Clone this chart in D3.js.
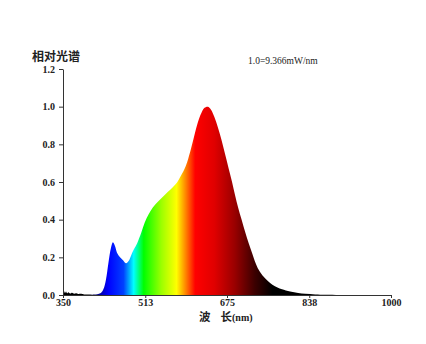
<!DOCTYPE html>
<html>
<head>
<meta charset="utf-8">
<script src="https://cdn.jsdelivr.net/npm/d3@7"></script>
<style>
	body { margin: 0; background: #fff; }
	svg { display: block; }
	.tick text { font-family: 'Liberation Serif', 'DejaVu Serif', serif; font-weight: bold; font-size: 10px; fill: #222; }
</style>
</head>
<body>
<div id="chart"></div>
<script>
// wavelength (nm) and relative intensity
var wavelengths = [350, 352, 354, 356, 358, 361, 364, 368, 372, 376, 380, 386, 392, 400, 410, 420, 425, 430, 435, 440, 445, 449, 453, 457, 463, 469, 475, 480, 485, 490, 497, 505, 512, 520, 528, 538, 548, 558, 568, 576, 582, 590, 596, 604, 611, 617, 624, 630, 637, 643, 650, 657, 664, 671, 678, 685, 691, 697, 704, 711, 718, 725, 730, 736, 745, 756, 765, 775, 784, 800, 816, 830, 850, 870, 900, 1000]
var intensity = [0.012, 0.02, 0.01, 0.018, 0.009, 0.015, 0.008, 0.012, 0.007, 0.009, 0.005, 0.006, 0.003, 0.003, 0.002, 0.005, 0.01, 0.03, 0.08, 0.17, 0.25, 0.28, 0.26, 0.225, 0.2, 0.185, 0.168, 0.18, 0.21, 0.24, 0.275, 0.33, 0.385, 0.43, 0.465, 0.495, 0.522, 0.548, 0.574, 0.598, 0.625, 0.665, 0.705, 0.78, 0.855, 0.915, 0.965, 0.993, 1.0, 0.985, 0.945, 0.89, 0.825, 0.75, 0.675, 0.6, 0.53, 0.465, 0.4, 0.335, 0.275, 0.22, 0.18, 0.142, 0.105, 0.075, 0.055, 0.04, 0.03, 0.018, 0.01, 0.006, 0.003, 0.001, 0, 0]

var xTicks = [350, 513, 675, 838, 1000]
var yTicks = [0, 0.2, 0.4, 0.6, 0.8, 1.0, 1.2]

// spectrum colour stops
var stopNm = [400, 425, 440, 470, 490, 510, 545, 575, 592, 612, 650, 690, 730, 765]
var stopColor = ['#000000', '#0000b0', '#0000ff', '#0040ff', '#00ffff', '#00ff00', '#9cff00', '#ffff00', '#ff8c00', '#ff0000', '#e00000', '#9a0000', '#3c0000', '#000000']

var width = 426
var height = 344
var margin = { top: 69, right: 35, bottom: 49, left: 63 }

var svg = d3.select('#chart').append('svg')
	.attr('width', width)
	.attr('height', height)

var x = d3.scaleLinear()
	.domain([350, 1000])
	.range([margin.left, width - margin.right])

var y = d3.scaleLinear()
	.domain([0, 1.2])
	.range([height - margin.bottom, margin.top])

var data = wavelengths.map((d, i) => ({ nm: d, v: intensity[i] }))

// gradient along wavelength
var grad = svg.append('defs').append('linearGradient')
	.attr('id', 'spec')
	.attr('gradientUnits', 'userSpaceOnUse')
	.attr('x1', x(350)).attr('x2', x(1000))
	.attr('y1', 0).attr('y2', 0)

grad.selectAll('stop')
	.data(stopNm)
	.enter()
	.append('stop')
	.attr('offset', d => (d - 350) / 650)
	.attr('stop-color', (d, i) => stopColor[i])

var area = d3.area()
	.x(d => x(d.nm))
	.y0(y(0))
	.y1(d => y(d.v))
	.curve(d3.curveCatmullRom.alpha(0.5))

svg.append('path')
	.datum(data)
	.attr('d', area)
	.attr('fill', 'url(#spec)')

// axes
svg.append('g')
	.attr('transform', 'translate(0,' + y(0) + ')')
	.call(d3.axisBottom(x).tickValues(xTicks).tickFormat(d3.format('d')).tickSize(3).tickSizeOuter(0).tickPadding(1))

svg.append('g')
	.attr('transform', 'translate(' + x(350) + ',0)')
	.call(d3.axisLeft(y).tickValues(yTicks).tickFormat(d3.format('.1f')).tickSize(4).tickSizeOuter(0).tickPadding(4))

svg.selectAll('.domain').attr('stroke', '#333')
svg.selectAll('.tick line').attr('stroke', '#333')

// titles
svg.append('text')
	.attr('x', 32)
	.attr('y', 61)
	.style('font-family', "'Noto Sans CJK SC', sans-serif")
	.style('font-weight', 'bold')
	.style('font-size', '12px')
	.attr('fill', '#222')
	.text('相对光谱')

svg.append('text')
	.attr('x', 248)
	.attr('y', 64)
	.style('font-family', "'Liberation Serif', serif")
	.style('font-size', '9.5px')
	.attr('fill', '#222')
	.text('1.0=9.366mW/nm')

var xLabel = svg.append('text')
	.attr('x', 199)
	.attr('y', 321)
	.style('font-family', "'Noto Sans CJK SC', sans-serif")
	.style('font-weight', 'bold')
	.style('font-size', '11.5px')
	.attr('fill', '#222')
xLabel.append('tspan').text('波')
xLabel.append('tspan').attr('dx', 10).text('长')
xLabel.append('tspan')
	.style('font-family', "'Liberation Serif', serif")
	.style('font-size', '10px')
	.text('(nm)')
</script>
</body>
</html>
